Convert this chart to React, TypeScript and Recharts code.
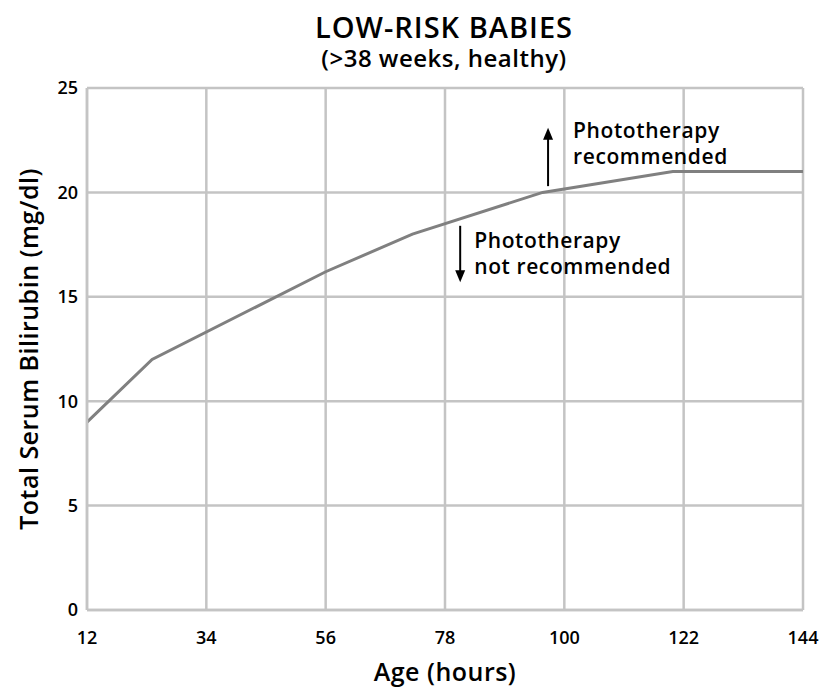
import { LineChart, Line, XAxis, YAxis, CartesianGrid, ReferenceLine } from 'recharts';

const hours = [12, 24, 56, 72, 96, 120, 144];
const bilirubin = [9, 12, 16.2, 18, 20, 21, 21];
const xTicks = [12, 34, 56, 78, 100, 122, 144];
const yTicks = [0, 5, 10, 15, 20, 25];

const data = hours.map((h, i) => ({ hour: h, tsb: bilirubin[i] }));

const FONT = '"Open Sans", "Noto Sans", sans-serif';

const Arrow = (props: any) => {
  const { x1, y1, y2, up, lines, dx } = props;
  const tipY = up ? Math.min(y1, y2) : Math.max(y1, y2);
  const baseY = up ? Math.max(y1, y2) : Math.min(y1, y2);
  const dir = up ? 1 : -1;
  const textY = up ? tipY + 10 : baseY + 22;
  return (
    <g>
      <line x1={x1} y1={baseY} x2={x1} y2={tipY + dir * 8} stroke="#000" strokeWidth={2} />
      <polygon points={`${x1},${tipY} ${x1 - 5},${tipY + dir * 12} ${x1 + 5},${tipY + dir * 12}`} fill="#000" />
      {lines.map((t: string, i: number) => (
        <text key={i} x={x1 + dx} y={textY + i * 26} fontSize={21} fontFamily={FONT} fontWeight={600} letterSpacing={0.6} fill="#000">
          {t}
        </text>
      ))}
    </g>
  );
};

const App = () => {
  return (
    <div style={{ position: 'absolute', left: 0, top: 0, width: 824, height: 689, background: '#fff' }}>
      <div style={{ position: 'absolute', left: 0, top: 11, width: 888, textAlign: 'center', fontFamily: FONT, fontWeight: 600, fontSize: 29, lineHeight: '32px', letterSpacing: 1 }}>
        LOW-RISK BABIES
      </div>
      <div style={{ position: 'absolute', left: 0, top: 46, width: 888, textAlign: 'center', fontFamily: FONT, fontWeight: 600, fontSize: 24, lineHeight: '24px', letterSpacing: 0.5 }}>
        (&gt;38 weeks, healthy)
      </div>
      <LineChart width={824} height={689} data={data} margin={{ top: 88, right: 21, bottom: 0, left: 27 }}>
        <CartesianGrid stroke="#c4c4c4" strokeWidth={2.5} horizontalValues={yTicks} verticalValues={xTicks} />
        <XAxis
          dataKey="hour"
          type="number"
          domain={[12, 144]}
          ticks={xTicks}
          height={79}
          tickSize={0}
          tickMargin={21}
          axisLine={{ stroke: '#c4c4c4', strokeWidth: 2.5 }}
          tick={{ fill: '#000', fontSize: 18, fontFamily: FONT, fontWeight: 600 }}
          label={{
            content: (p: any) => (
              <text x={p.viewBox.x + p.viewBox.width / 2} y={681} textAnchor="middle" fontSize={25} fontFamily={FONT} fontWeight={600} letterSpacing={0.5} fill="#000">
                Age (hours)
              </text>
            ),
          }}
        />
        <YAxis
          type="number"
          domain={[0, 25]}
          ticks={yTicks}
          width={60}
          tickSize={0}
          tickMargin={9}
          axisLine={{ stroke: '#c4c4c4', strokeWidth: 2.5 }}
          tick={{ fill: '#000', fontSize: 18, fontFamily: FONT, fontWeight: 600 }}
          label={{
            content: (p: any) => {
              const cy = p.viewBox.y + p.viewBox.height / 2;
              return (
                <text x={38} y={cy} transform={`rotate(-90, 38, ${cy})`} textAnchor="middle" fontSize={25} fontFamily={FONT} fontWeight={600} letterSpacing={0.5} fill="#000">
                  Total Serum Bilirubin (mg/dl)
                </text>
              );
            },
          }}
        />
        <ReferenceLine
          segment={[{ x: 97, y: 20.3 }, { x: 97, y: 23.1 }]}
          shape={(p: any) => <Arrow {...p} up lines={['Phototherapy', 'recommended']} dx={25} />}
        />
        <ReferenceLine
          segment={[{ x: 80.8, y: 18.4 }, { x: 80.8, y: 15.7 }]}
          shape={(p: any) => <Arrow {...p} up={false} lines={['Phototherapy', 'not recommended']} dx={14} />}
        />
        <Line type="linear" dataKey="tsb" stroke="#808080" strokeWidth={3} dot={false} isAnimationActive={false} />
      </LineChart>
    </div>
  );
};

export default App;
